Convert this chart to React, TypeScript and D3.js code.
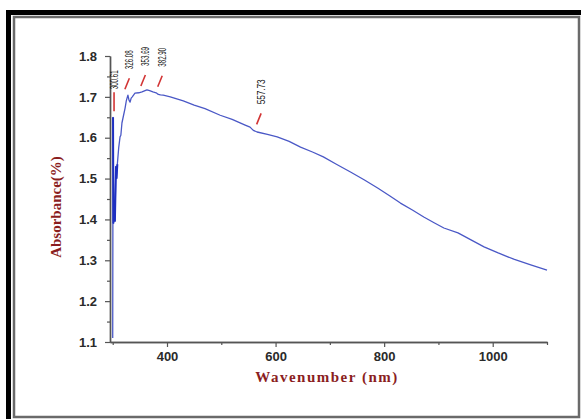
import React, { useEffect, useRef } from "react";
import * as d3 from "d3";

// spectrum (nm, absorbance)
const wavelengths = [
  300.0, 300.6, 301.2, 302.5, 304, 306, 307, 308.5, 311, 313.5, 315, 317, 320,
  322.7, 325, 326.4, 328, 330, 332, 334, 336, 341, 348, 354, 363, 368, 374, 380,
  384, 388, 393, 406, 430, 450, 470, 498, 520, 544, 553, 559, 566, 585, 603, 625,
  646, 668, 688, 712, 738, 763, 788, 810, 830, 852, 873, 892, 910, 936, 960, 984,
  1010, 1040, 1070, 1100,
];
const absorbance = [
  1.11, 1.65, 1.39, 1.43, 1.395, 1.53, 1.5, 1.535, 1.575, 1.602, 1.606, 1.636,
  1.655, 1.672, 1.69, 1.697, 1.704, 1.692, 1.687, 1.697, 1.7, 1.709, 1.71, 1.712,
  1.717, 1.715, 1.712, 1.71, 1.706, 1.705, 1.704, 1.7, 1.69, 1.68, 1.671, 1.655,
  1.645, 1.631, 1.626, 1.618, 1.614, 1.608, 1.602, 1.591, 1.577, 1.565, 1.553,
  1.535, 1.516, 1.497, 1.477, 1.458, 1.44, 1.423, 1.406, 1.392, 1.379, 1.367,
  1.35, 1.333, 1.318, 1.302, 1.289, 1.276,
];

const peaks = [300.61, 326.08, 353.69, 382.9, 557.73];
const peakLabels = ["300.61", "326.08", "353.69", "382.90", "557.73"];

const yMajor = [1.1, 1.2, 1.3, 1.4, 1.5, 1.6, 1.7, 1.8];
const yMinor = [1.15, 1.25, 1.35, 1.45, 1.55, 1.65, 1.75];
const xMajor = [400, 600, 800, 1000];
const xMinor = [300, 500, 700, 900, 1100];

const W = 581;
const H = 419;
const titleColor = "#8b1e1e";

export default function App() {
  const svgRef = useRef(null);

  useEffect(() => {
    const svg = d3.select(svgRef.current);
    svg.selectAll("*").remove();

    const x = d3.scaleLinear().domain([295, 1100]).range([110, 547]);
    const y = d3.scaleLinear().domain([1.1, 1.8]).range([342, 56]);

    // frame
    svg.append("rect").attr("width", W).attr("height", H).attr("fill", "#fff");
    svg
      .append("rect")
      .attr("x", 14)
      .attr("y", 17)
      .attr("width", 565)
      .attr("height", 400)
      .attr("fill", "none")
      .attr("stroke", "#6a6a6a")
      .attr("stroke-width", 2.5);
    svg.append("rect").attr("x", 6).attr("y", 10).attr("width", 575).attr("height", 5).attr("fill", "#000");
    svg.append("rect").attr("x", 6).attr("y", 10).attr("width", 5).attr("height", 409).attr("fill", "#000");

    const styleAxis = (g) => {
      g.select(".domain").attr("stroke", "#555").attr("stroke-width", 1.4);
      g.selectAll(".tick line").attr("stroke", "#555").attr("stroke-width", 1.2);
      g.selectAll(".tick text")
        .attr("fill", "#2a2a2a")
        .attr("font-family", "'Liberation Sans', Arial, sans-serif")
        .attr("font-weight", "bold")
        .attr("font-size", 13);
    };

    // y axis
    svg
      .append("g")
      .attr("transform", "translate(110,0)")
      .call(d3.axisLeft(y).tickValues(yMinor).tickSize(3).tickSizeOuter(0).tickFormat(() => ""))
      .call(styleAxis);
    svg
      .append("g")
      .attr("transform", "translate(110,0)")
      .call(d3.axisLeft(y).tickValues(yMajor).tickSize(5).tickSizeOuter(0).tickPadding(8).tickFormat(d3.format(".1f")))
      .call(styleAxis);

    // x axis
    svg
      .append("g")
      .attr("transform", "translate(0,342)")
      .call(d3.axisBottom(x).tickValues(xMinor).tickSize(3).tickSizeOuter(0).tickFormat(() => ""))
      .call(styleAxis);
    svg
      .append("g")
      .attr("transform", "translate(0,342)")
      .call(d3.axisBottom(x).tickValues(xMajor).tickSize(5).tickSizeOuter(0).tickPadding(5).tickFormat(d3.format("d")))
      .call(styleAxis);

    // titles
    svg
      .append("text")
      .attr("x", 327)
      .attr("y", 382)
      .attr("text-anchor", "middle")
      .attr("font-family", "'Liberation Serif', 'Times New Roman', serif")
      .attr("font-weight", "bold")
      .attr("font-size", 15)
      .attr("letter-spacing", 1.5)
      .attr("fill", titleColor)
      .text("Wavenumber (nm)");
    svg
      .append("text")
      .attr("transform", "translate(61,207) rotate(-90)")
      .attr("text-anchor", "middle")
      .attr("font-family", "'Liberation Serif', 'Times New Roman', serif")
      .attr("font-weight", "bold")
      .attr("font-size", 15)
      .attr("fill", titleColor)
      .text("Absorbance(%)");

    // spectrum
    const pts = wavelengths.map((w, i) => [w, absorbance[i]]);
    const line = d3
      .line()
      .x((d) => x(d[0]))
      .y((d) => y(d[1]));
    svg
      .append("path")
      .attr("d", line(pts))
      .attr("fill", "none")
      .attr("stroke", "#4a58c6")
      .attr("stroke-width", 1.3)
      .attr("stroke-linejoin", "round");
    svg
      .append("path")
      .attr("d", line(pts.filter((d) => d[0] >= 300.6 && d[0] <= 309)))
      .attr("fill", "none")
      .attr("stroke", "#1f30c0")
      .attr("stroke-width", 2);

    // peak markers
    const dx = [1, -2, -1, 0, 4];
    peaks.forEach((p, i) => {
      const near = pts.filter((d) => Math.abs(d[0] - p) <= 3).map((d) => d[1]);
      const bx = x(p) + dx[i];
      const by = y(d3.max(near)) - 6;
      const first = i === 0;
      const tx = first ? bx : bx + 4.5;
      const ty = first ? by - 19 : by - 11;
      svg
        .append("line")
        .attr("x1", bx)
        .attr("y1", by)
        .attr("x2", tx)
        .attr("y2", ty)
        .attr("stroke", "#d23434")
        .attr("stroke-width", 1.6);
      const last = i === peaks.length - 1;
      svg
        .append("text")
        .attr("transform", `translate(${tx + 3.5},${ty - (first ? 3 : 9)}) rotate(-90)`)
        .attr("font-family", "'Liberation Sans', Arial, sans-serif")
        .attr("font-size", last ? 10.5 : 10)
        .attr("textLength", last ? 25 : 19)
        .attr("lengthAdjust", "spacingAndGlyphs")
        .attr("fill", "#111")
        .text(peakLabels[i]);
    });
  }, []);

  return (
    <div style={{ position: "absolute", left: 0, top: 0 }}>
      <svg ref={svgRef} width={W} height={H} style={{ display: "block" }}></svg>
    </div>
  );
}
